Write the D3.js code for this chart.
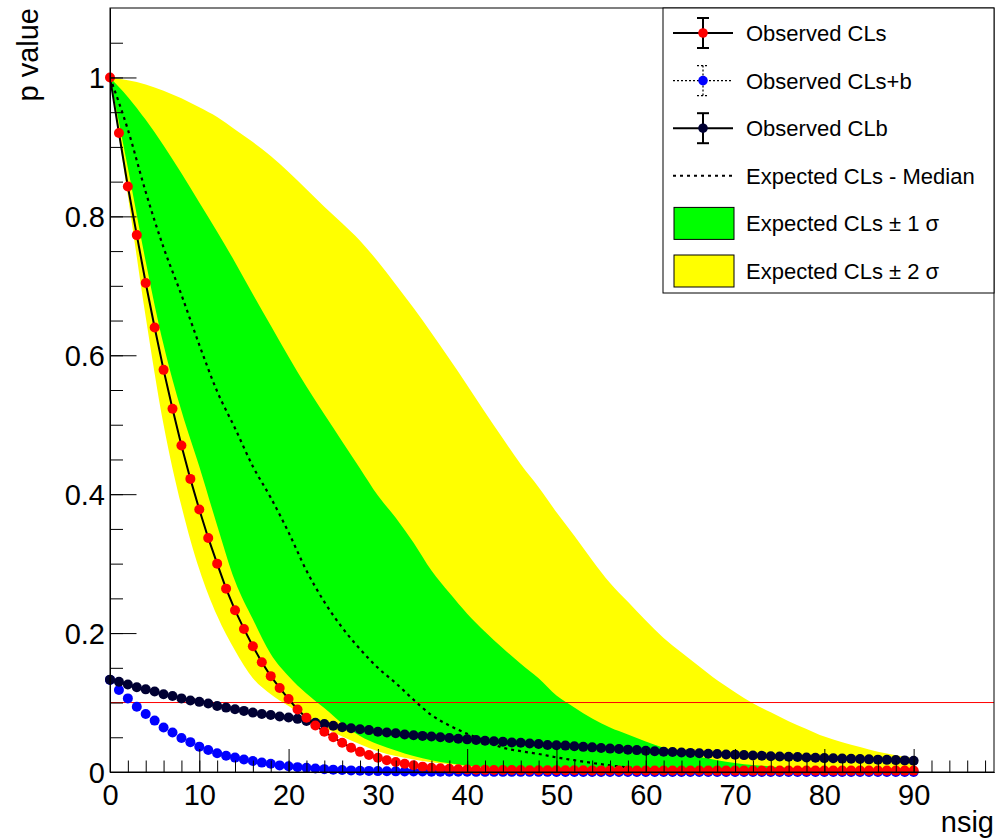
<!DOCTYPE html>
<html>
<head>
<meta charset="utf-8">
<script src="https://cdn.jsdelivr.net/npm/d3@7"></script>
<style>
  body { margin: 0; background: #fff; }
  svg { font-family: "Liberation Sans", Arial, Helvetica, sans-serif; }
</style>
</head>
<body>
<div id="vis"></div>
<script>
// scan points (nsig) for the observed curves
const nsig = [
  0,1,2,3,4,5,6,7,8,9,10,11,12,13,14,15,16,17,18,19,
  20,21,22,23,24,25,26,27,28,29,30,31,32,33,34,35,36,37,38,39,
  40,41,42,43,44,45,46,47,48,49,50,51,52,53,54,55,56,57,58,59,
  60,61,62,63,64,65,66,67,68,69,70,71,72,73,74,75,76,77,78,79,
  80,81,82,83,84,85,86,87,88,89,90
];

const obsCLs = [
  1.000,0.920,0.843,0.773,0.704,0.640,0.579,0.523,0.470,0.422,
  0.378,0.337,0.300,0.264,0.233,0.206,0.181,0.158,0.138,0.121,
  0.105,0.090,0.078,0.067,0.058,0.050,0.042,0.035,0.029,0.0245,
  0.0206,0.017,0.0144,0.012,0.0096,0.0077,0.0062,0.0053,0.0045,0.0039,
  0.0035,0.0033,0.0031,0.0030,0.0029,0.0028,0.0027,0.0026,0.0026,0.0025,
  0.0025,0.0024,0.0024,0.0024,0.0023,0.0023,0.0023,0.0022,0.0022,0.0022,
  0.0022,0.0021,0.0021,0.0021,0.0021,0.0021,0.0021,0.0020,0.0020,0.0020,
  0.0020,0.0020,0.0020,0.0020,0.0020,0.0020,0.0020,0.0020,0.0020,0.0020,
  0.0020,0.0020,0.0020,0.0020,0.0020,0.0020,0.0020,0.0020,0.0020,0.0020,0.0020
];

const obsCLsb = [
  0.1326,0.118,0.106,0.094,0.0836,0.074,0.064,0.057,0.049,0.043,
  0.0365,0.0317,0.027,0.0235,0.0207,0.018,0.0158,0.0135,0.0118,0.0095,
  0.0082,0.0070,0.0060,0.0050,0.0041,0.0034,0.0028,0.0023,0.0019,0.0016,
  0.0013,0.0011,0.0009,0.0008,0.0007,0.0006,0.0005,0.0004,0.0004,0.0003,
  0.0003,0.0002,0.0002,0.0002,0.0002,0.0002,0.0002,0.0002,0.0002,0.0002,
  0.0001,0.0001,0.0001,0.0001,0.0001,0.0001,0.0001,0.0001,0.0001,0.0001,
  0.0001,0.0001,0.0001,0.0001,0.0001,0.0001,0.0001,0.0001,0.0001,0.0001,
  0.0001,0.0001,0.0001,0.0001,0.0001,0.0001,0.0001,0.0001,0.0001,0.0001,
  0.0001,0.0001,0.0001,0.0001,0.0001,0.0001,0.0001,0.0001,0.0001,0.0001,0.0001
];

const obsCLb = [
  0.133,0.130,0.126,0.122,0.119,0.116,0.112,0.1095,0.106,0.103,
  0.101,0.0985,0.095,0.0927,0.0903,0.088,0.0855,0.0836,0.082,0.080,
  0.0785,0.0765,0.0735,0.071,0.069,0.0665,0.0645,0.063,0.0615,0.0603,
  0.058,0.057,0.0558,0.054,0.053,0.052,0.051,0.050,0.049,0.0478,
  0.047,0.046,0.045,0.0443,0.0435,0.0425,0.042,0.041,0.0402,0.039,
  0.0385,0.038,0.037,0.0362,0.0355,0.0345,0.0337,0.033,0.0322,0.0315,
  0.0305,0.030,0.0293,0.0287,0.028,0.0275,0.027,0.0264,0.026,0.0253,
  0.0248,0.0243,0.0238,0.0233,0.0228,0.0224,0.022,0.0215,0.021,0.0205,
  0.020,0.0197,0.0193,0.019,0.0186,0.0182,0.0178,0.0175,0.0171,0.0167,0.0163
];

// expected bands, read every 2 units
const expX = [
  0,2,4,6,8,10,12,14,16,18,20,22,24,26,28,30,32,34,36,38,40,42,44,
  46,48,50,52,54,56,58,60,62,64,66,68,70,72,74,76,78,80,82,84,86,88,90
];
const expMedian = [
  1.0,0.925,0.835,0.755,0.687,0.615,0.548,0.495,0.440,0.395,0.345,0.290,0.245,
  0.208,0.177,0.150,0.128,0.104,0.082,0.067,0.055,0.045,0.035,0.030,0.026,0.021,
  0.017,0.013,0.0095,0.0065,0.0045,0.004,0.0035,0.0032,0.003,0.0028,0.0026,0.0025,
  0.0024,0.0023,0.0022,0.0022,0.0021,0.0021,0.002,0.002
];
const expP1 = [
  1.0,0.972,0.939,0.902,0.862,0.820,0.778,0.734,0.688,0.643,0.598,0.555,0.515,
  0.476,0.437,0.398,0.366,0.330,0.290,0.258,0.228,0.202,0.178,0.156,0.135,0.110,
  0.093,0.077,0.064,0.054,0.044,0.035,0.028,0.022,0.017,0.013,0.010,0.008,
  0.006,0.005,0.0045,0.0042,0.004,0.0038,0.0036,0.0035
];
const expM1 = [
  1.0,0.870,0.735,0.615,0.520,0.440,0.355,0.275,0.220,0.170,0.138,0.113,0.092,
  0.070,0.052,0.040,0.031,0.023,0.017,0.0125,0.009,0.007,0.005,0.004,0.003,0.0025,
  0.002,0.0018,0.0016,0.0015,0.0014,0.0013,0.0012,0.0011,0.001,0.001,0.001,0.001,
  0.001,0.001,0.001,0.001,0.001,0.001,0.001,0.001
];
const expP2 = [
  1.0,0.996,0.990,0.981,0.970,0.957,0.943,0.925,0.907,0.887,0.864,0.839,0.814,
  0.790,0.765,0.735,0.702,0.668,0.632,0.595,0.557,0.518,0.480,0.443,0.410,0.374,
  0.340,0.305,0.272,0.245,0.218,0.193,0.172,0.152,0.132,0.115,0.099,0.086,
  0.073,0.062,0.051,0.043,0.036,0.029,0.024,0.020
];
const expM2 = [
  1.0,0.830,0.655,0.500,0.383,0.292,0.225,0.175,0.135,0.112,0.095,0.078,0.064,
  0.051,0.040,0.030,0.023,0.018,0.014,0.011,0.008,0.006,0.005,0.004,0.003,0.002,
  0.0015,0.001,0.001,0.0008,0.0006,0.0005,0.0005,0.0004,0.0004,0.0003,0.0003,0.0003,
  0.0002,0.0002,0.0002,0.0002,0.0002,0.0002,0.0002,0.0002
];

const clLevel = 0.1;
const xMajor = [0,10,20,30,40,50,60,70,80,90];
const yMajor = [0,0.2,0.4,0.6,0.8,1];

const legendItems = [
  {label: "Observed CLs", kind: "marker", color: "#ff0000", dash: null},
  {label: "Observed CLs+b", kind: "marker", color: "#0000ff", dash: "2,2"},
  {label: "Observed CLb", kind: "marker", color: "#000033", dash: null},
  {label: "Expected CLs - Median", kind: "line", color: "#000", dash: "3,4"},
  {label: "Expected CLs \u00b1 1 \u03c3", kind: "box", color: "#00ff00"},
  {label: "Expected CLs \u00b1 2 \u03c3", kind: "box", color: "#ffff00"}
];

const svg = d3.select("#vis").append("svg").attr("width", 1003).attr("height", 840);

const x = d3.scaleLinear().domain([0, 99]).range([110, 994]);
const y = d3.scaleLinear().domain([0, 1.1]).range([772, 8]);

svg.append("clipPath").attr("id", "frame")
  .append("rect")
  .attr("x", x(0)).attr("y", y(1.1))
  .attr("width", x(99) - x(0)).attr("height", y(0) - y(1.1));

const plot = svg.append("g").attr("clip-path", "url(#frame)");

const band = (lo, hi) => expX.map((v, i) => ({x: v, lo: lo[i], hi: hi[i]}));
const area = d3.area().x(d => x(d.x)).y0(d => y(d.lo)).y1(d => y(d.hi)).curve(d3.curveMonotoneX);

plot.append("path").datum(band(expM2, expP2)).attr("d", area).attr("fill", "#ffff00");
plot.append("path").datum(band(expM1, expP1)).attr("d", area).attr("fill", "#00ff00");

plot.append("path")
  .datum(expX.map((v, i) => [v, expMedian[i]]))
  .attr("d", d3.line().x(d => x(d[0])).y(d => y(d[1])).curve(d3.curveMonotoneX))
  .attr("fill", "none").attr("stroke", "#000").attr("stroke-width", 2.2)
  .attr("stroke-dasharray", "3,4");

// CL line
plot.append("line")
  .attr("x1", x(0)).attr("x2", x(99))
  .attr("y1", y(clLevel)).attr("y2", y(clLevel))
  .attr("stroke", "#ff0000").attr("stroke-width", 1);

const marks = svg.append("g");

function drawObs(vals, color, lineColor) {
  const pts = nsig.map((v, i) => [v, vals[i]]);
  if (lineColor) {
    marks.append("path").datum(pts)
      .attr("d", d3.line().x(d => x(d[0])).y(d => y(d[1])))
      .attr("fill", "none").attr("stroke", lineColor).attr("stroke-width", 2);
  }
  marks.append("g").selectAll("circle")
    .data(pts)
    .enter()
    .append("circle")
    .attr("cx", d => x(d[0]))
    .attr("cy", d => y(d[1]))
    .attr("r", 5)
    .attr("fill", color);
}

drawObs(obsCLsb, "#0000ff", null);
drawObs(obsCLb, "#000033", "#000");
drawObs(obsCLs, "#ff0000", "#000");

// axes
const fs = 29;
svg.append("g").attr("transform", `translate(0,${y(0)})`)
  .call(d3.axisBottom(x).tickValues(d3.range(0, 99, 2)).tickSize(-11.5).tickSizeOuter(0).tickFormat(""));
const xAxis = svg.append("g").attr("transform", `translate(0,${y(0)})`)
  .call(d3.axisBottom(x).tickValues(xMajor).tickSize(-23).tickSizeOuter(0).tickPadding(12.5).tickFormat(d3.format("d")));
svg.append("g").attr("transform", `translate(${x(0)},0)`)
  .call(d3.axisLeft(y).tickValues(d3.range(0, 22).map(i => i * 0.05)).tickSize(-13).tickSizeOuter(0).tickFormat(""));
const yAxis = svg.append("g").attr("transform", `translate(${x(0)},0)`)
  .call(d3.axisLeft(y).tickValues(yMajor).tickSize(-26.5).tickSizeOuter(0).tickPadding(5).tickFormat(d3.format("~g")));

svg.selectAll(".tick line").attr("stroke", "#000");
svg.selectAll(".domain").attr("stroke", "#000");
xAxis.selectAll("text").attr("font-size", fs).attr("fill", "#000").attr("font-family", null);
yAxis.selectAll("text").attr("font-size", fs).attr("fill", "#000").attr("font-family", null).attr("dy", "0.36em");

svg.append("rect")
  .attr("x", x(0)).attr("y", y(1.1))
  .attr("width", x(99) - x(0)).attr("height", y(0) - y(1.1))
  .attr("fill", "none").attr("stroke", "#000").attr("stroke-width", 1);

svg.append("text")
  .attr("transform", `translate(38,${y(1.1)}) rotate(-90)`)
  .attr("text-anchor", "end")
  .attr("font-size", fs)
  .text("p value");

svg.append("text")
  .attr("x", x(99)).attr("y", 832)
  .attr("text-anchor", "end")
  .attr("font-size", fs)
  .text("nsig");

// Legend
const leg = svg.append("g");
leg.append("rect")
  .attr("x", 663).attr("y", 8).attr("width", 331).attr("height", 285)
  .attr("fill", "#fff").attr("stroke", "#000").attr("stroke-width", 1);

legendItems.forEach((it, i) => {
  const cy = 33 + i * 47.6;
  const g = leg.append("g");
  if (it.kind === "box") {
    g.append("rect").attr("x", 674).attr("y", cy - 16).attr("width", 60).attr("height", 32)
      .attr("fill", it.color).attr("stroke", "#000").attr("stroke-width", 1);
  } else if (it.kind === "line") {
    g.append("line").attr("x1", 673).attr("x2", 733).attr("y1", cy).attr("y2", cy)
      .attr("stroke", "#000").attr("stroke-width", 2).attr("stroke-dasharray", it.dash);
  } else {
    const dash = it.dash;
    const sw = dash ? 1.2 : 2;
    g.append("line").attr("x1", 673).attr("x2", 733).attr("y1", cy).attr("y2", cy)
      .attr("stroke", "#000").attr("stroke-width", sw).attr("stroke-dasharray", dash);
    g.append("line").attr("x1", 703).attr("x2", 703).attr("y1", cy - 15).attr("y2", cy + 15)
      .attr("stroke", "#000").attr("stroke-width", sw).attr("stroke-dasharray", dash);
    g.append("line").attr("x1", 697).attr("x2", 709).attr("y1", cy - 15).attr("y2", cy - 15)
      .attr("stroke", "#000").attr("stroke-width", sw).attr("stroke-dasharray", dash);
    g.append("line").attr("x1", 697).attr("x2", 709).attr("y1", cy + 15).attr("y2", cy + 15)
      .attr("stroke", "#000").attr("stroke-width", sw).attr("stroke-dasharray", dash);
    g.append("circle").attr("cx", 703).attr("cy", cy).attr("r", 4.8).attr("fill", it.color);
  }
  g.append("text").attr("x", 746).attr("y", cy + 8)
    .attr("font-size", 22).text(it.label);
});
</script>
</body>
</html>
